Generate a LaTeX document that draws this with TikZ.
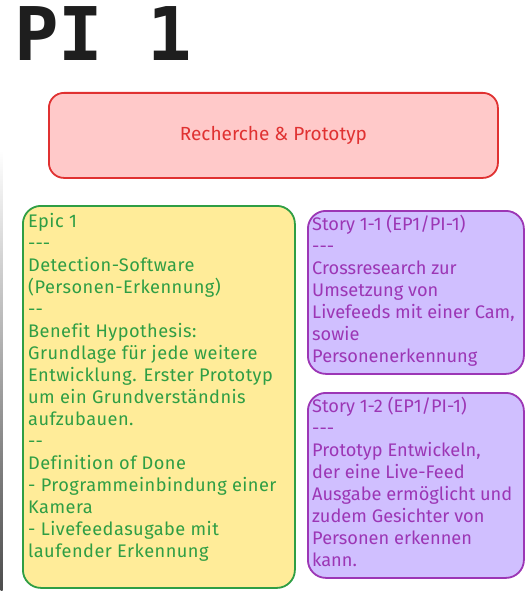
\documentclass[tikz,border=0pt]{standalone}
\usepackage{fontspec}
\setmainfont{Fira Sans}[Ligatures=NoCommon]
\newfontfamily\widefont{Fira Sans}[Ligatures=NoCommon, LetterSpace=2.5]
\newfontfamily\titlefont{DejaVu Sans Mono}
\definecolor{redfill}{HTML}{FFC9C9}
\definecolor{redline}{HTML}{E03131}
\definecolor{yelfill}{HTML}{FFEC99}
\definecolor{grnline}{HTML}{2F9E44}
\definecolor{purfill}{HTML}{D0BFFF}
\definecolor{purline}{HTML}{9C36B5}
\definecolor{inkblack}{HTML}{1E1E1E}
% literal hyphen runs, kept from turning into dashes
\newcommand{\hyph}{\mbox{-}}
\newcommand{\septhree}{\hyph\hyph\hyph}
\newcommand{\septwo}{\hyph\hyph}
\begin{document}
\begin{tikzpicture}[x=1pt,y=-1pt,
  card/.style={line width=1.8pt, rounded corners=18pt, anchor=north west, inner sep=0pt},
  redcard/.style={card, draw=redline, fill=redfill, rounded corners=15pt},
  epiccard/.style={card, draw=grnline, fill=yelfill},
  storycard/.style={card, draw=purline, fill=purfill},
  cardtext/.style={anchor=north west, inner sep=0pt, align=left,
    font=\fontsize{18.2}{22}\selectfont},
]
\useasboundingbox (0,0) rectangle (529,591);
\fill[white] (0,0) rectangle (529,591);

% frame edge on the left
\shade[top color=white, bottom color=black!70] (0.6,150) rectangle (2.6,591);

% title
\node[anchor=north west, inner sep=0pt, text=inkblack,
      font=\titlefont\bfseries\fontsize{74}{74}\selectfont] (title) at (14,6) {PI 1};

% feature bar
\node[redcard, minimum width=449pt, minimum height=85pt] (feature) at (48,92) {};
\node[text=redline, font=\fontsize{19}{22}\selectfont] (featuretext) at (feature.center) {Recherche \& Prototyp};

% epic card
\node[epiccard, minimum width=272pt, minimum height=382pt] (epic) at (22,205) {};
\node[cardtext, text=grnline, font=\widefont\fontsize{18.2}{22}\selectfont] (epictext) at (28,213) {Epic 1\\
\septhree\\
Detection-Software\\
(Personen-Erkennung)\\
\septwo\\
Benefit Hypothesis:\\
Grundlage für jede weitere\\
Entwicklung. Erster Prototyp\\
um ein Grundverständnis\\
aufzubauen.\\
\septwo\\
Definition of Done\\
- Programmeinbindung einer\\
Kamera\\
- Livefeedasugabe mit\\
laufender Erkennung};

% story cards
\node[storycard, minimum width=216pt, minimum height=163pt] (story1) at (307,210) {};
\node[cardtext, text=purline] (story1text) at (312,215) {Story 1-1 (EP1/PI-1)\\
\septhree\\
Crossresearch zur\\
Umsetzung von\\
Livefeeds mit einer Cam,\\
sowie\\
Personenerkennung};

\node[storycard, minimum width=216pt, minimum height=185pt] (story2) at (307,392) {};
\node[cardtext, text=purline] (story2text) at (312,397) {Story 1-2 (EP1/PI-1)\\
\septhree\\
Prototyp Entwickeln,\\
der eine Live-Feed\\
Ausgabe ermöglicht und\\
zudem Gesichter von\\
Personen erkennen\\
kann.};
\end{tikzpicture}
\end{document}
